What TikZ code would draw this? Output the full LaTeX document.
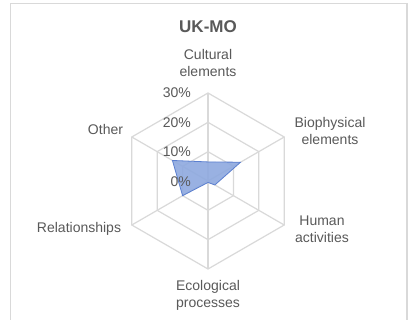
\documentclass[tikz,border=0pt]{standalone}
\usepackage{fontspec}
\setmainfont{Liberation Sans}
\usetikzlibrary{calc}
\definecolor{txtgray}{HTML}{595959}
\definecolor{gridgray}{HTML}{D9D9D9}
\definecolor{framegray}{HTML}{D9D9D9}
\definecolor{serfill}{HTML}{8EA9DF}
\definecolor{serline}{HTML}{5B7FCF}
\begin{document}
\begin{tikzpicture}[x=1pt,y=1pt,
  lbl/.style={text=txtgray,font=\fontsize{14}{17}\selectfont,align=center,inner sep=0pt},
  pct/.style={text=txtgray,font=\fontsize{14}{17}\selectfont,anchor=east,inner sep=0pt},
  grid/.style={draw=gridgray,line width=1.2pt}]
\useasboundingbox (0,0) rectangle (414,320);
\fill[white] (0,0) rectangle (414,320);
\draw[framegray,line width=1.4pt] (10.7,-5) -- (10.7,316.5) -- (407,316.5) -- (407,-5);
\coordinate (c) at (208,139);
% grid hexagons
\foreach \r in {29.33,58.67,88}{
  \draw[grid] ($(c)+(90:\r)$) -- ($(c)+(30:\r)$) -- ($(c)+(-30:\r)$) -- ($(c)+(-90:\r)$) -- ($(c)+(210:\r)$) -- ($(c)+(150:\r)$) -- cycle;
}
\foreach \a in {90,30,-30,-90,210,150}{
  \draw[grid] (c) -- ($(c)+(\a:88)$);
}
% data series
\def\k{2.9333}
\draw[fill=serfill,draw=serline,line width=0.8pt,fill opacity=0.9]
  ($(c)+(90:6.5*\k)$) -- ($(c)+(30:12.8*\k)$) -- ($(c)+(-30:2.7*\k)$) -- ($(c)+(-90:0.5*\k)$) -- ($(c)+(210:10*\k)$) -- ($(c)+(150:14*\k)$) -- cycle;
% percent labels
\node[pct] (p30) at (191,227) {30\%};
\node[pct] (p20) at (191,197) {20\%};
\node[pct] (p10) at (191,168) {10\%};
\node[pct] (p0) at (191,138) {0\%};
% category labels
\node[lbl] (cul) at (208,256.5) {Cultural\\elements};
\node[lbl] (bio) at (330,189) {Biophysical\\elements};
\node[lbl] (hum) at (322,90.5) {Human\\activities};
\node[lbl] (eco) at (208,24.5) {Ecological\\processes};
\node[lbl] (rel) at (79,91) {Relationships};
\node[lbl] (oth) at (105.5,190) {Other};
\node[text=txtgray,font=\fontsize{17}{20}\selectfont\bfseries,inner sep=0pt] (title) at (208,293) {UK-MO};
\end{tikzpicture}
\end{document}
